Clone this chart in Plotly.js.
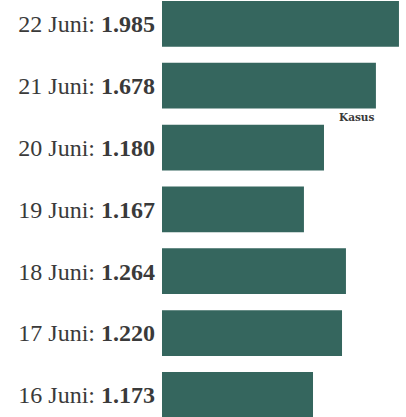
<!DOCTYPE html>
<html>
<head>
<meta charset="utf-8">
<script src="https://cdn.plot.ly/plotly-3.0.1.min.js"></script>
<style>html,body{margin:0;padding:0;background:#fff;}#chart{width:406px;height:417px;}</style>
</head>
<body>
<div id="chart"></div>
<script>
// Data
const dates = ["22 Juni", "21 Juni", "20 Juni", "19 Juni", "18 Juni", "17 Juni", "16 Juni"];
const shownValues = ["1.985", "1.678", "1.180", "1.167", "1.264", "1.220", "1.173"];
// Bar lengths as drawn (same units as the top bar)
const barLengths = [1.985, 1.792, 1.357, 1.189, 1.541, 1.508, 1.265];
const seriesName = "Kasus";

const positions = dates.map((d, i) => i);
const tickText = dates.map((d, i) => d + ": <b>" + shownValues[i] + "</b>");

const trace = {
  type: "bar",
  orientation: "h",
  x: barLengths,
  y: positions,
  name: seriesName,
  marker: {color: "#35665e"},
  width: 0.739,
  hoverinfo: "none"
};

const layout = {
  width: 406,
  height: 417,
  margin: {l: 162, r: 0, t: 0, b: 0, pad: 0},
  paper_bgcolor: "#ffffff",
  plot_bgcolor: "#ffffff",
  showlegend: false,
  font: {family: "Liberation Serif", color: "#3a3a3a", size: 24},
  xaxis: {range: [0, 2.044], visible: false, fixedrange: true},
  yaxis: {
    range: [6.358, -0.386],
    tickvals: positions,
    ticktext: tickText,
    showgrid: false,
    zeroline: false,
    showline: false,
    ticks: "",
    ticklabelstandoff: 6,
    tickfont: {family: "Liberation Serif", size: 24, color: "#3a3a3a"},
    fixedrange: true
  },
  annotations: [{
    x: barLengths[1],
    y: 1.37,
    xref: "x",
    yref: "y",
    text: "<b>" + seriesName + "</b>",
    showarrow: false,
    xanchor: "right",
    yanchor: "top",
    font: {family: "DejaVu Serif", size: 10.5, color: "#3a3a3a"}
  }]
};

Plotly.newPlot("chart", [trace], layout, {displayModeBar: false, staticPlot: true});
</script>
</body>
</html>
